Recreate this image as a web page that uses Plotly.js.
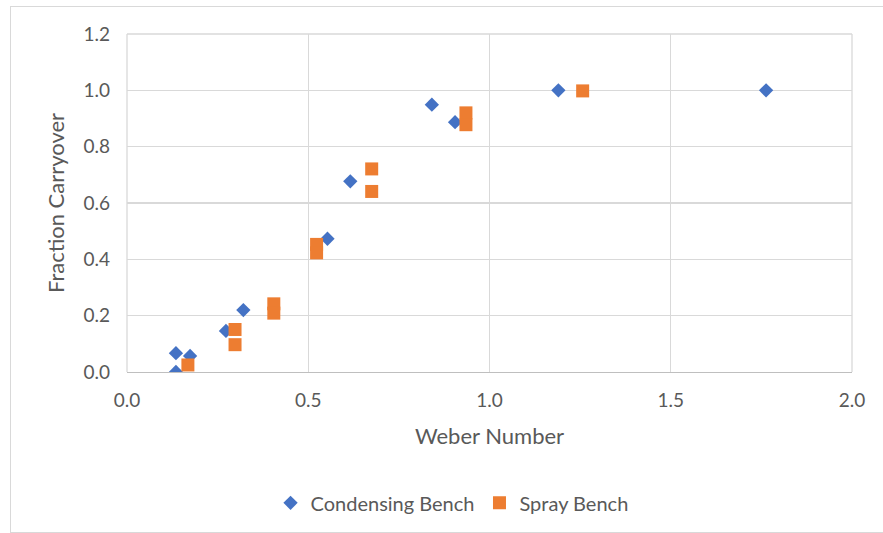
<!DOCTYPE html>
<html>
<head>
<meta charset="utf-8">
<script src="https://cdn.plot.ly/plotly-3.0.1.min.js"></script>
<style>
html,body{margin:0;padding:0;background:#fff;}
#wrap{position:relative;width:883px;height:533px;}
#chart{position:absolute;left:0;top:0;width:883px;height:533px;}
#frame{position:absolute;left:10px;top:6px;width:880px;height:525px;border:1px solid #d9d9d9;pointer-events:none;}
</style>
</head>
<body>
<div id="wrap"><div id="chart"></div><div id="frame"></div></div>
<script>
var condX = [0.135, 0.135, 0.174, 0.273, 0.321, 0.553, 0.616, 0.841, 0.905, 1.19, 1.763];
var condY = [0.0, 0.067, 0.057, 0.146, 0.22, 0.473, 0.677, 0.949, 0.887, 1.0, 1.0];
var sprayX = [0.168, 0.298, 0.298, 0.405, 0.405, 0.523, 0.523, 0.675, 0.675, 0.935, 0.935, 1.257];
var sprayY = [0.025, 0.151, 0.097, 0.242, 0.209, 0.453, 0.423, 0.721, 0.641, 0.920, 0.878, 0.998];
var xTicks = [0, 0.5, 1.0, 1.5, 2.0];
var yTicks = [0, 0.2, 0.4, 0.6, 0.8, 1.0, 1.2];

var font = 'Lato, "Open Sans", sans-serif';
var traces = [
  {x: condX, y: condY, type: 'scatter', mode: 'markers', name: 'Condensing Bench',
   marker: {symbol: 'diamond', size: 11, color: '#4472C4'}},
  {x: sprayX, y: sprayY, type: 'scatter', mode: 'markers', name: 'Spray Bench',
   marker: {symbol: 'square', size: 13, color: '#ED7D31'}}
];
var layout = {
  width: 883, height: 533,
  margin: {l: 127, r: 31, t: 34, b: 160},
  paper_bgcolor: '#fff', plot_bgcolor: '#fff',
  font: {family: font, color: '#595959', size: 19},
  xaxis: {range: [0, 2], tickvals: xTicks, ticktext: xTicks.map(function(v){return v.toFixed(1);}),
    showgrid: true, gridcolor: '#d9d9d9', gridwidth: 1.3, zeroline: false,
    showline: true, linecolor: '#bfbfbf', linewidth: 1.3, ticks: '', ticklen: 0,
    ticklabelstandoff: 11,
    tickfont: {size: 19, color: '#595959'},
    title: {text: 'Weber Number', font: {size: 22, color: '#595959'}, standoff: 18}},
  yaxis: {range: [0, 1.2], tickvals: yTicks, ticktext: yTicks.map(function(v){return v.toFixed(1);}),
    showgrid: true, gridcolor: '#d9d9d9', gridwidth: 1.3, zeroline: false,
    showline: false, ticks: '', ticklen: 0,
    ticklabelstandoff: 16,
    tickfont: {size: 19, color: '#595959'},
    title: {text: 'Fraction Carryover', font: {size: 22, color: '#595959'}, standoff: 12}},
  showlegend: true,
  legend: {orientation: 'h', x: 0.198, xanchor: 'left', y: -0.383, yanchor: 'middle',
    font: {size: 20, color: '#595959'}, itemwidth: 30, tracegroupgap: 0},
  shapes: [
    {type: 'line', xref: 'paper', yref: 'paper', x0: 0, x1: 1, y0: 1, y1: 1, line: {color: '#d9d9d9', width: 1.3}},
    {type: 'line', xref: 'paper', yref: 'paper', x0: 1, x1: 1, y0: 0, y1: 1, line: {color: '#d9d9d9', width: 1.3}},
    {type: 'line', xref: 'paper', yref: 'paper', x0: 0, x1: 0, y0: 0, y1: 1, line: {color: '#d9d9d9', width: 1.3}}
  ]
};
Plotly.newPlot('chart', traces, layout, {displayModeBar: false, staticPlot: true});
</script>
</body>
</html>
